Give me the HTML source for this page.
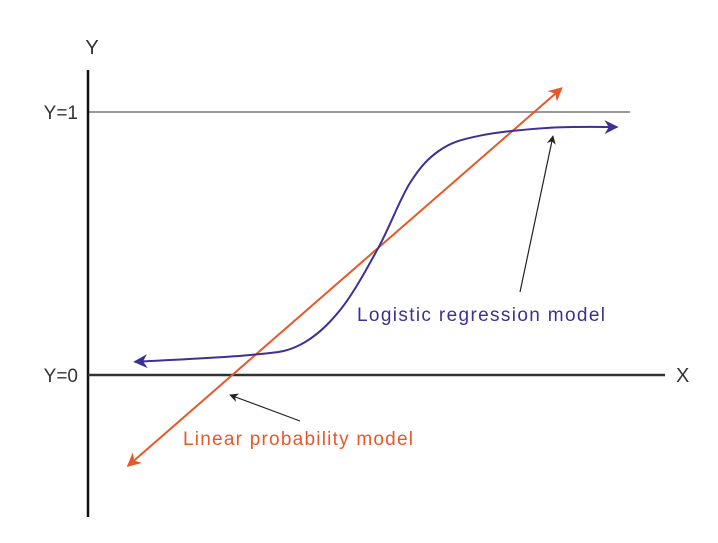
<!DOCTYPE html>
<html><head><meta charset="utf-8"><style>
body{margin:0;background:#fff}
svg text{font-family:"Liberation Sans",sans-serif}
</style></head><body>
<svg width="718" height="538" viewBox="0 0 718 538">
<defs>
<marker id="ab" viewBox="0 0 10 10" refX="9" refY="5" markerWidth="18" markerHeight="14" markerUnits="userSpaceOnUse" orient="auto-start-reverse"><path d="M0,0 L10,5 L0,10 L3,5 z" fill="#3b3196"/></marker>
<marker id="ao" viewBox="0 0 10 10" refX="9" refY="5" markerWidth="18" markerHeight="14" markerUnits="userSpaceOnUse" orient="auto-start-reverse"><path d="M0,0 L10,5 L0,10 L3,5 z" fill="#e8572a"/></marker>
<marker id="ak" viewBox="0 0 10 10" refX="9" refY="5" markerWidth="11" markerHeight="9" markerUnits="userSpaceOnUse" orient="auto"><path d="M0,0 L10,5 L0,10 L3,5 z" fill="#222"/></marker>
</defs>
<line x1="88" y1="112" x2="630" y2="112" stroke="#999" stroke-width="2"/>
<line x1="88" y1="70" x2="88" y2="517" stroke="#111" stroke-width="2.5"/>
<line x1="88" y1="375" x2="665" y2="375" stroke="#333" stroke-width="2.5"/>
<text x="92" y="54" font-size="20" fill="#333" text-anchor="middle">Y</text>
<text x="676" y="382" font-size="20" fill="#333">X</text>
<text x="78" y="119" font-size="19" fill="#333" text-anchor="end">Y=1</text>
<text x="78" y="382" font-size="19" fill="#333" text-anchor="end">Y=0</text>
<g id="series"></g>
<line x1="520" y1="292" x2="553" y2="136" stroke="#222" stroke-width="1.2" marker-end="url(#ak)"/>
<line x1="300" y1="421" x2="230" y2="395" stroke="#222" stroke-width="1.2" marker-end="url(#ak)"/>
<text x="357" y="321" font-size="19" textLength="248" fill="#3b3196">Logistic regression model</text>
<text x="183" y="445" font-size="19" textLength="230" fill="#e8572a">Linear probability model</text>
</svg>
<script>
const logisticX=[8.1,28.1,36.7,43.7,50.3,55.8,61.0,67.9,80.1,91.7];
const logisticY=[0.05,0.076,0.114,0.247,0.483,0.73,0.855,0.91,0.94,0.943];
const linearX=[6.9,82.1];
const linearY=[-0.346,1.091];
const sx=v=>88+v*5.77;
const sy=v=>375-v*263;
const ns="http://www.w3.org/2000/svg";
const g=document.getElementById('series');
function pts(xs,ys){return xs.map((x,i)=>[sx(x),sy(ys[i])]);}
function smooth(p){let d=`M${p[0][0]},${p[0][1]}`;for(let i=0;i<p.length-1;i++){const p0=p[i-1]||p[i],p1=p[i],p2=p[i+1],p3=p[i+2]||p2;d+=` C${p1[0]+(p2[0]-p0[0])/6},${p1[1]+(p2[1]-p0[1])/6} ${p2[0]-(p3[0]-p1[0])/6},${p2[1]-(p3[1]-p1[1])/6} ${p2[0]},${p2[1]}`;}return d;}
const lp=pts(linearX,linearY);
const l=document.createElementNS(ns,'path');
l.setAttribute('d',`M${lp[0][0]},${lp[0][1]} L${lp[1][0]},${lp[1][1]}`);
l.setAttribute('stroke','#e8572a');l.setAttribute('stroke-width','2');l.setAttribute('fill','none');
l.setAttribute('marker-start','url(#ao)');l.setAttribute('marker-end','url(#ao)');


g.appendChild(l);
const c=document.createElementNS(ns,'path');
c.setAttribute('d',smooth(pts(logisticX,logisticY)));
c.setAttribute('stroke','#3b3196');c.setAttribute('stroke-width','2');c.setAttribute('fill','none');
c.setAttribute('marker-start','url(#ab)');c.setAttribute('marker-end','url(#ab)');


g.appendChild(c);
</script>
</body></html>
